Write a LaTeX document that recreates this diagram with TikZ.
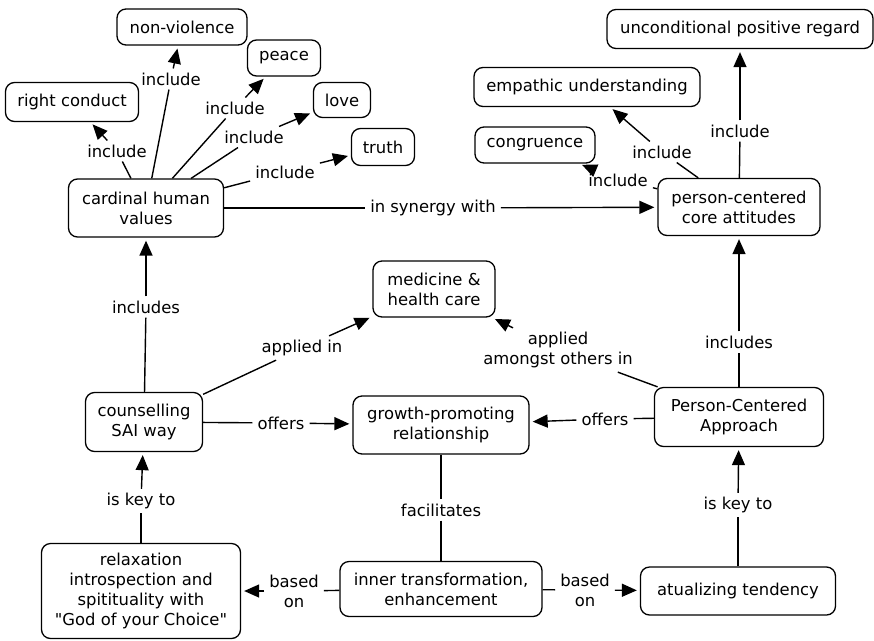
\documentclass[tikz,border=0pt]{standalone}
\usepackage{fontspec}
\setmainfont{DejaVu Sans}
\usetikzlibrary{arrows.meta}
\begin{document}
\begin{tikzpicture}[x=1pt,y=-1pt,
  txt/.style={font=\fontsize{16.4}{20}\selectfont},
  concept/.style={txt, draw, line width=1.3pt, rounded corners=9pt, align=center, inner sep=2pt},
  sz/.style 2 args={minimum width=#1, minimum height=#2},
  lab/.style={txt, inner xsep=5pt, inner ysep=4pt, align=center},
  link/.style={line width=1.4pt},
  arr/.style={link, -{Triangle[length=15pt,width=13pt]}, shorten >=3pt}]
\useasboundingbox (0,0) rectangle (874,640);
\fill[white] (0,0) rectangle (874,640);

% concepts
\node[concept, sz={130pt}{36pt}] (nonviol) at (182,27) {non-violence};
\node[concept, sz={73pt}{36pt}] (peace) at (284,58) {peace};
\node[concept, sz={133pt}{39pt}] (right) at (72,102) {right conduct};
\node[concept, sz={57pt}{35pt}] (love) at (342,100) {love};
\node[concept, sz={63pt}{37pt}] (truth) at (383,147) {truth};
\node[concept, sz={155pt}{58pt}] (cardinal) at (146,208) {cardinal human\\values};
\node[concept, sz={266pt}{39pt}] (upr) at (740,29) {unconditional positive regard};
\node[concept, sz={226pt}{39pt}] (empathic) at (587,87) {empathic understanding};
\node[concept, sz={120pt}{36pt}] (congruence) at (535,145) {congruence};
\node[concept, sz={162pt}{57pt}] (core) at (739,207) {person-centered\\core attitudes};
\node[concept, sz={122pt}{56pt}] (medicine) at (434,289) {medicine \&\\health care};
\node[concept, sz={117pt}{59pt}] (sai) at (144,422) {counselling\\SAI way};
\node[concept, sz={176pt}{58pt}] (growth) at (441,425) {growth-promoting\\relationship};
\node[concept, sz={169pt}{59pt}] (pca) at (739,417) {Person-Centered\\Approach};
\node[concept, sz={199pt}{95pt}] (relax) at (141,591) {relaxation\\introspection and\\spitituality with\\\textquotedbl God of your Choice\textquotedbl};
\node[concept, sz={202pt}{55pt}] (inner) at (441,589) {inner transformation,\\enhancement};
\node[concept, sz={195pt}{48pt}] (tend) at (738,591) {atualizing tendency};

% linking phrases
\node[lab] (lRight) at (117,151) {include};
\node[lab] (lNon) at (171,79) {include};
\node[lab] (lPeace) at (235,108) {include};
\node[lab] (lLove) at (254,137) {include};
\node[lab] (lTruth) at (285,172) {include};
\node[lab] (lSyn) at (433,208) {in synergy with};
\node[lab] (lUpr) at (740,131) {include};
\node[lab] (lEmp) at (662,152) {include};
\node[lab] (lCong) at (618,180) {include};
\node[lab] (lInc1) at (146,307) {includes};
\node[lab] (lApp) at (302,348) {applied in};
\node[lab] (lAmong) at (558,350) {applied\\amongst others in};
\node[lab] (lInc2) at (739,342) {includes};
\node[lab] (lOff1) at (281,423) {offers};
\node[lab] (lOff2) at (605,419) {offers};
\node[lab] (lFac) at (441,510) {facilitates};
\node[lab] (lKey1) at (141,501) {is key to};
\node[lab] (lBase1) at (294,591) {based\\on};
\node[lab] (lBase2) at (585,590) {based\\on};
\node[lab] (lKey2) at (738,505) {is key to};

% connectors
\draw[link] (cardinal) -- (lRight); \draw[arr] (lRight) -- (right);
\draw[link] (cardinal) -- (lNon);   \draw[arr] (lNon) -- (nonviol);
\draw[link] (cardinal) -- (lPeace); \draw[arr] (lPeace) -- (peace);
\draw[link] (cardinal) -- (lLove);  \draw[arr] (lLove) -- (love);
\draw[link] (cardinal) -- (lTruth); \draw[arr] (lTruth) -- (truth);
\draw[link] (cardinal) -- (lSyn);   \draw[arr] (lSyn) -- (core);
\draw[link] (core) -- (lUpr);       \draw[arr] (lUpr) -- (upr);
\draw[link] (core) -- (lEmp);       \draw[arr] (lEmp) -- (empathic);
\draw[link] (core) -- (lCong);      \draw[arr] (lCong) -- (congruence);
\draw[link] (sai) -- (lInc1);       \draw[arr] (lInc1) -- (cardinal);
\draw[link] (sai) -- (lApp);        \draw[arr] (lApp) -- (medicine);
\draw[link] (pca) -- (lAmong);      \draw[arr] (lAmong) -- (medicine);
\draw[link] (pca) -- (lInc2);       \draw[arr] (lInc2) -- (core);
\draw[link] (sai) -- (lOff1);       \draw[arr] (lOff1) -- (growth);
\draw[link] (pca) -- (lOff2);       \draw[arr] (lOff2) -- (growth);
\draw[link] (growth) -- (lFac);     \draw[link] (lFac) -- (inner);
\draw[link] (relax) -- (lKey1);     \draw[arr] (lKey1) -- (sai);
\draw[link] (inner) -- (lBase1);    \draw[arr] (lBase1) -- (relax);
\draw[link] (inner) -- (lBase2);    \draw[arr] (lBase2) -- (tend);
\draw[link] (tend) -- (lKey2);      \draw[arr] (lKey2) -- (pca);
\end{tikzpicture}
\end{document}
